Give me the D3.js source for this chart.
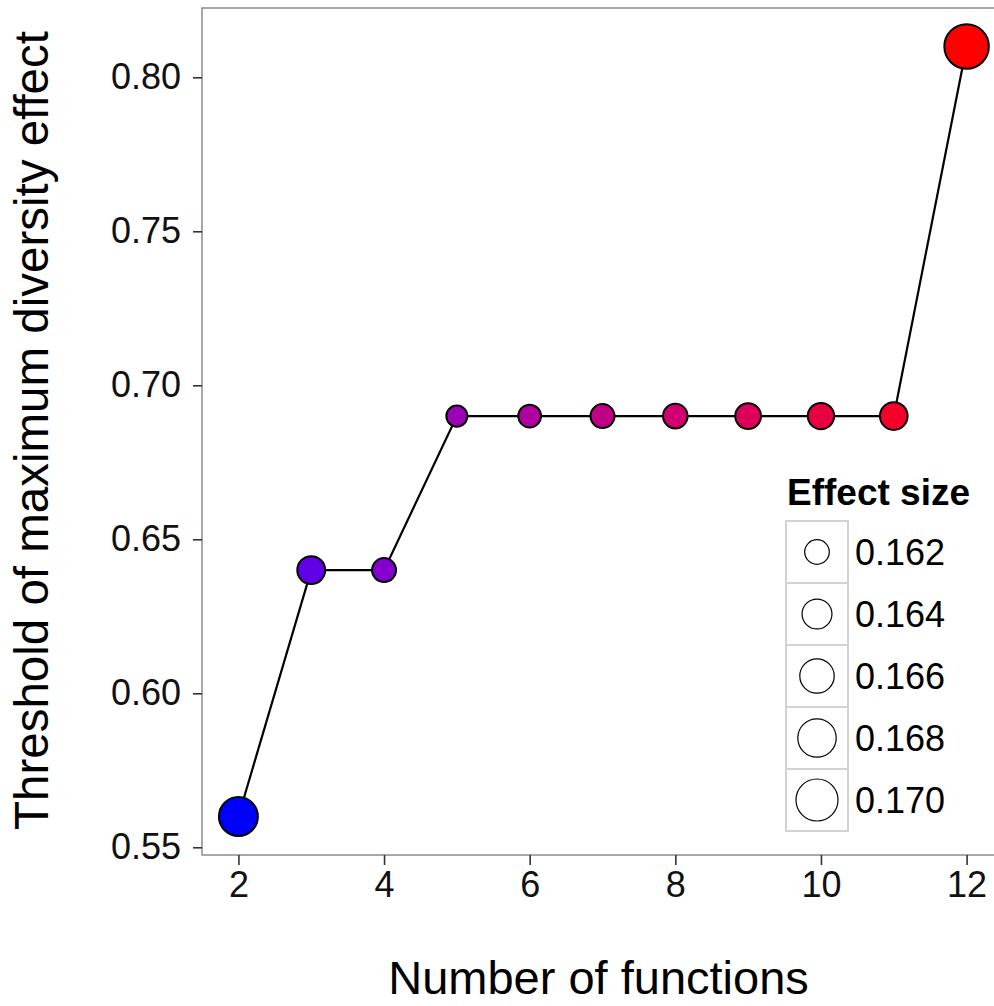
<!DOCTYPE html>
<html>
<head>
<meta charset="UTF-8">
<title>Threshold chart</title>
<script src="https://d3js.org/d3.v7.min.js"></script>
<style>
  body { margin: 0; background: #fff; }
  svg { display: block; font-family: "Liberation Sans", Arial, sans-serif; }
</style>
</head>
<body>
<div id="chart"></div>
<script>
// data
var nFunctions = [2, 3, 4, 5, 6, 7, 8, 9, 10, 11, 12];
var threshold  = [0.56, 0.64, 0.64, 0.69, 0.69, 0.69, 0.69, 0.69, 0.69, 0.69, 0.81];
var effectSize = [0.1683, 0.1632, 0.1618, 0.1609, 0.1614, 0.1618, 0.1620, 0.1624, 0.1626, 0.1631, 0.1715];
var yTicks = [0.55, 0.60, 0.65, 0.70, 0.75, 0.80];
var xTicks = [2, 4, 6, 8, 10, 12];
var legendBreaks = [0.162, 0.164, 0.166, 0.168, 0.170];

var width = 994, height = 1006;
var panel = { left: 202, top: 8, right: 1003, bottom: 855 };

var svg = d3.select('#chart').append('svg')
    .attr('width', width)
    .attr('height', height);

var x = d3.scaleLinear().domain([1.5, 12.5]).range([panel.left, panel.right]);
var y = d3.scaleLinear().domain([0.5475, 0.8225]).range([panel.bottom, panel.top]);
var area = d3.scaleLinear().domain([0.162, 0.170]).range([151, 441]);
function radius(v) { return Math.sqrt(area(v)); }
var colour = d3.scaleLinear().domain([2, 12]).range(['blue', 'red']).interpolate(d3.interpolateLab);

var data = nFunctions.map(function(n, i) {
  return { n: n, t: threshold[i], e: effectSize[i] };
});

// panel
svg.append('rect')
    .attr('x', panel.left).attr('y', panel.top)
    .attr('width', panel.right - panel.left)
    .attr('height', panel.bottom - panel.top)
    .attr('fill', '#fff')
    .attr('stroke', '#8c8c8c')
    .attr('stroke-width', 1.5);

// axes
var yAxis = d3.axisLeft(y).tickValues(yTicks).tickFormat(d3.format('.2f')).tickSize(9).tickPadding(12);
var xAxis = d3.axisBottom(x).tickValues(xTicks).tickSize(10).tickPadding(6);

var gy = svg.append('g').attr('transform', 'translate(' + panel.left + ',0)').call(yAxis);
var gx = svg.append('g').attr('transform', 'translate(0,' + panel.bottom + ')').call(xAxis);
[gy, gx].forEach(function(g) {
  g.select('.domain').remove();
  g.selectAll('line').attr('stroke', '#333').attr('stroke-width', 1.6);
  g.selectAll('text').attr('fill', '#111').style('font-size', '36px');
});

// line and points
var line = d3.line().x(function(d) { return x(d.n); }).y(function(d) { return y(d.t); });
svg.append('path')
    .datum(data)
    .attr('d', line)
    .attr('fill', 'none')
    .attr('stroke', '#000')
    .attr('stroke-width', 2.2);

svg.selectAll('.pt')
  .data(data)
  .enter().append('circle')
    .attr('class', 'pt')
    .attr('cx', function(d) { return x(d.n); })
    .attr('cy', function(d) { return y(d.t); })
    .attr('r', function(d) { return radius(d.e); })
    .attr('fill', function(d) { return colour(d.n); })
    .attr('stroke', '#000')
    .attr('stroke-width', 2);

// axis titles
svg.append('text')
    .attr('x', (panel.left + panel.right) / 2 - 4)
    .attr('y', 994)
    .attr('text-anchor', 'middle')
    .style('font-size', '47px')
    .text('Number of functions');

svg.append('text')
    .attr('transform', 'translate(48,' + ((panel.top + panel.bottom) / 2 - 1) + ') rotate(-90)')
    .attr('text-anchor', 'middle')
    .style('font-size', '47.5px')
    .text('Threshold of maximum diversity effect');

// legend
var keySize = 62;
var legend = svg.append('g').attr('transform', 'translate(786,521)');
legend.append('text')
    .attr('x', 1).attr('y', -16)
    .style('font-size', '37px')
    .style('font-weight', 'bold')
    .text('Effect size');

var keys = legend.selectAll('.key')
  .data(legendBreaks)
  .enter().append('g')
    .attr('class', 'key')
    .attr('transform', function(d, i) { return 'translate(0,' + (i * keySize) + ')'; });

keys.append('rect')
    .attr('width', keySize).attr('height', keySize)
    .attr('fill', '#fff')
    .attr('stroke', '#d2d2d2')
    .attr('stroke-width', 2);

keys.append('circle')
    .attr('cx', keySize / 2).attr('cy', keySize / 2)
    .attr('r', radius)
    .attr('fill', 'none')
    .attr('stroke', '#000')
    .attr('stroke-width', 1.2);

keys.append('text')
    .attr('x', keySize + 7).attr('y', keySize / 2)
    .attr('dy', '0.36em')
    .style('font-size', '36px')
    .text(d3.format('.3f'));
</script>
</body>
</html>
